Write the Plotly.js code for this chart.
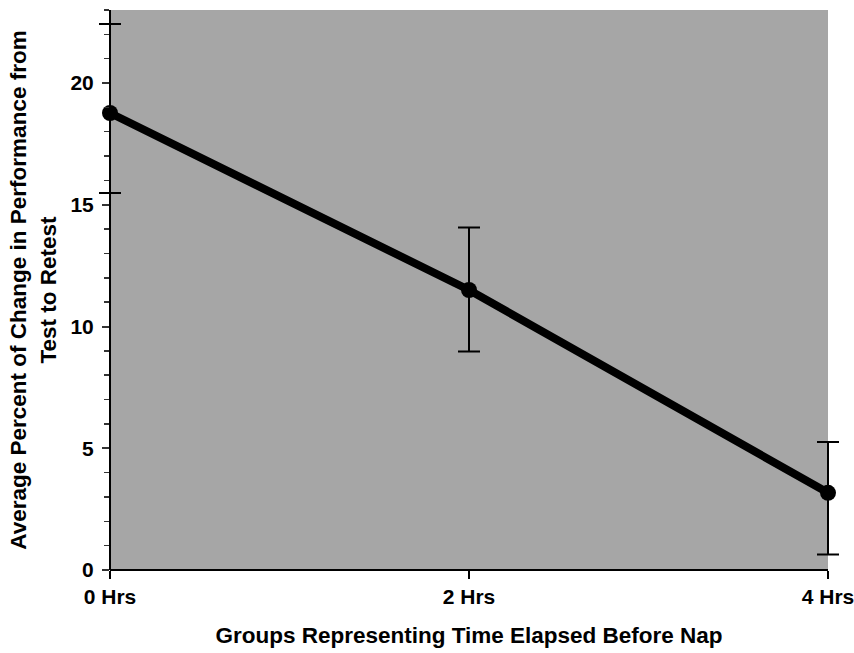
<!DOCTYPE html>
<html><head><meta charset="utf-8">
<script src="https://cdn.plot.ly/plotly-3.0.1.min.js"></script>
<style>body{margin:0;background:#fff}#c{width:854px;height:653px}</style>
</head><body><div id="c"></div>
<script>
const groups = ['0 Hrs', '2 Hrs', '4 Hrs'];
const meanChange = [18.77, 11.5, 3.17];
const errUpper = [3.65, 2.57, 2.09];
const errLower = [3.29, 2.53, 2.53];

const idx = groups.map((g, i) => i);
const last = groups.length - 1;
const PAD = 14;                 // px of empty space beyond the first/last group
const plotW = 718;              // px between first and last group
const a = PAD / plotW * last;   // padding in data units
const fullW = plotW + 2 * PAD;

const trace = {
  x: idx, y: meanChange, type: 'scatter', mode: 'lines+markers',
  line: {color: '#000', width: 8},
  marker: {color: '#000', size: 16},
  error_y: {type: 'data', symmetric: false, array: errUpper, arrayminus: errLower,
            color: '#000', thickness: 2, width: 11},
  cliponaxis: false, showlegend: false
};
const ff = 'Liberation Sans, Arial, sans-serif';
const layout = {
  width: 854, height: 653,
  margin: {l: 110 - PAD, r: 854 - 110 - plotW - PAD, t: 10, b: 83},
  paper_bgcolor: '#fff', plot_bgcolor: '#fff',
  font: {family: ff, size: 16, color: '#000'},
  shapes: [
    {type: 'rect', xref: 'x', yref: 'y domain', x0: 0, x1: last, y0: 0, y1: 1,
     fillcolor: '#a6a6a6', line: {width: 0}, layer: 'below'},
    {type: 'line', xref: 'x', yref: 'y domain', x0: 0, x1: last, y0: 0, y1: 0,
     line: {color: '#000', width: 2}, layer: 'above'}
  ],
  xaxis: {
    range: [-a, last + a], tickvals: idx, ticktext: groups,
    showgrid: false, zeroline: false, showline: false,
    ticks: 'outside', ticklen: 8, tickwidth: 2, tickcolor: '#000',
    ticklabeloverflow: 'allow',
    tickfont: {family: ff, size: 21, color: '#000', weight: 'bold'},
    title: {text: '<b>Groups Representing Time Elapsed Before Nap</b>', font: {family: ff, size: 22.5}, standoff: 20}
  },
  yaxis: {
    range: [0, 23], dtick: 5, showgrid: false, zeroline: false,
    anchor: 'free', position: PAD / fullW,
    showline: true, linecolor: '#000', linewidth: 2,
    ticks: 'outside', ticklen: 7, tickwidth: 2, tickcolor: '#333',
    minor: {dtick: 1, ticks: 'outside', ticklen: 5, tickwidth: 1.5, tickcolor: '#333', showgrid: false},
    ticklabelstandoff: 4,
    tickfont: {family: ff, size: 21, color: '#000', weight: 'bold'},
    title: {text: '<b>Average Percent of Change in Performance from<br>Test to Retest</b>', font: {family: ff, size: 22.5}, standoff: 7}
  }
};
Plotly.newPlot('c', [trace], layout, {displayModeBar: false, staticPlot: true});
</script></body></html>
